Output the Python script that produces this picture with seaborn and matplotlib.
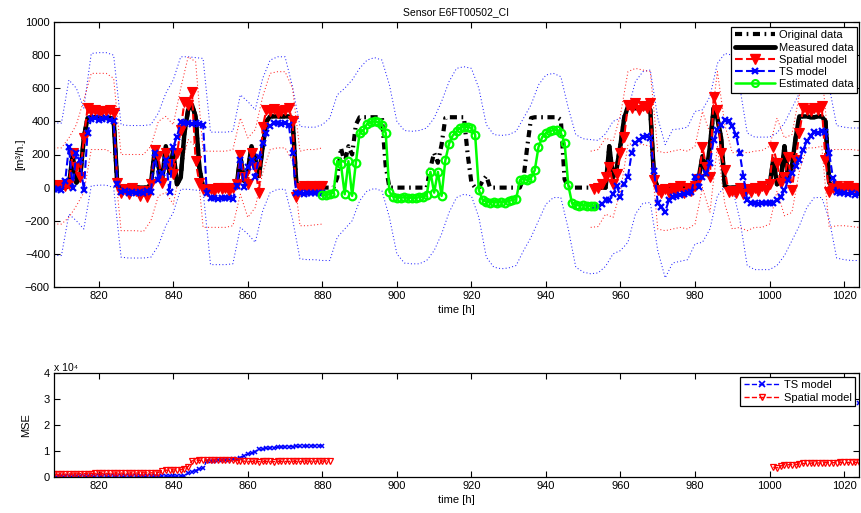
import numpy as np
import pandas as pd
import matplotlib
matplotlib.use('Agg')
import matplotlib.pyplot as plt
from matplotlib.lines import Line2D
import seaborn as sns

# ---------------- data ----------------
hours = list(range(808, 1025))
original_data = [
    0, 0, 0, 0, 10, 200, 30, 60, 300, 420,
    425, 425, 420, 420, 420, 420, 415, 10, 0, 0,
    0, 0, 0, 0, 0, 0, 20, 220, 130, 40,
    250, 90, 220, 20, 60, 330, 470, 500, 430, 120,
    0, 0, 0, 0, 0, 0, 0, 0, 0, 10,
    190, 40, 100, 250, 170, 70, 250, 400, 430, 430,
    430, 430, 430, 430, 420, 30, 0, 0, 0, 0,
    0, 0, 0, 0, 0, 0, 60, 240, 150, 250,
    200, 380, 425, 425, 425, 425, 425, 425, 420, 130,
    0, 0, 0, 0, 0, 0, 0, 0, 0, 0,
    0, 120, 210, 150, 260, 420, 425, 425, 425, 425,
    425, 200, 30, 0, 0, 40, 70, 0, 0, 0,
    0, 0, 0, 0, 0, 0, 60, 250, 420, 425,
    425, 425, 425, 425, 425, 425, 410, 50, 0, 0,
    0, 0, 0, 0, 0, 0, 0, 0, 0, 250,
    60, 120, 260, 420, 490, 480, 480, 480, 480, 480,
    470, 60, 0, 0, 0, 0, 0, 0, 0, 0,
    0, 0, 0, 60, 190, 80, 250, 480, 420, 300,
    10, 0, 0, 0, 0, 0, 0, 0, 0, 0,
    0, 0, 10, 170, 20, 40, 250, 60, 130, 300,
    430, 430, 430, 425, 425, 430, 430, 400, 30, 0,
    0, 0, 0, 0, 0, 0, 0]

# measured periods (the rest of the original series is missing)
meas_start1, meas_end1 = 808, 880
meas_start2, meas_end2 = 953, 1024

hours_seg1 = list(range(808, 881))
hours_seg2 = list(range(953, 1025))
hours_gap = list(range(880, 954))

spatial_seg1 = [
    10, 15, 10, 10, 20, 207, 126, 66, 300, 478,
    460, 470, 455, 465, 460, 470, 450, 30, -30, -10,
    -40, 0, -20, -50, -20, -55, 20, 227, 190, 30,
    207, 140, 80, 207, 350, 519, 500, 579, 160, 30,
    -10, -20, -10, -20, 0, -10, 0, -20, 0, 20,
    197, 66, 20, 207, 126, -35, 368, 470, 460, 475,
    450, 465, 470, 480, 400, -55, 0, 10, 0, 10,
    0, 10, 10]
spatial_seg2 = [
    -10, 0, 20, 66, 126,
    20, 80, 207, 308, 500, 480, 510, 470, 495, 480,
    510, 46, -15, -30, -10, -35, 0, -20, 10, -30,
    0, -20, 10, 50, 247, 126, 66, 549, 470, 207,
    106, -25, -20, -30, 0, -40, -10, -25, 0, -20,
    10, -15, 20, 247, 146, 26, 66, 187, -14, 167,
    328, 478, 470, 460, 480, 470, 490, 167, -25, 0,
    10, -10, 0, 10, -5, 0, -10]

ts_seg1 = [
    -10, -10, -15, 40, 247, 0, 207, 167, -15, 330,
    415, 418, 410, 415, 420, 410, 400, 20, -25, -20,
    -30, -25, -35, -25, -30, -20, -25, 207, 46, 86,
    167, -25, 247, 308, 398, 390, 388, 385, 390, 385,
    380, -35, -65, -60, -70, -65, -65, -60, -70, 10,
    167, 6, 126, 167, 66, 187, 267, 328, 370, 388,
    390, 385, 388, 380, 207, -35, -30, -40, -35, -35,
    -30, -35, -35]
ts_seg2 = [
    -115, -115, -100, -75, -75,
    -40, 10, -55, 20, 66, 207, 267, 290, 308, 310,
    300, 100, -90, -115, -145, -75, -55, -50, -45, -40,
    -35, -25, 66, 6, 66, 86, 147, 287, 350, 380,
    408, 400, 370, 320, 207, 66, -75, -95, -90, -100,
    -95, -95, -90, -95, -75, -55, -15, 46, 86, 130,
    167, 227, 280, 310, 338, 330, 340, 338, 207, 60,
    -25, -35, -30, -40, -35, -45, -40]

estimated_data = [
    -45, -45, -40, -30, 160, 140, -40, 160, -50, 150,
    330, 345, 385, 395, 400, 395, 380, 330, -25, -55,
    -60, -60, -58, -62, -60, -65, -55, -55, -45, 95,
    -30, 95, -50, 165, 265, 315, 340, 360, 368, 368,
    360, 320, -15, -75, -85, -90, -85, -90, -85, -90,
    -80, -75, -70, 45, 55, 45, 60, 105, 245, 305,
    330, 340, 348, 348, 330, 270, 15, -95, -105, -108,
    -105, -110, -110, -112]

# confidence bounds (every 2 h)
bound_hours = list(range(808, 1025, 2))
ts_upper = [
    390, 390, 650, 600, 480, 810, 815, 815, 800, 380,
    375, 375, 375, 380, 450, 570, 650, 790, 790, 785,
    780, 335, 335, 335, 340, 560, 520, 470, 660, 770,
    790, 790, 610, 370, 365, 365, 380, 420, 560, 600,
    650, 720, 770, 785, 770, 620, 400, 345, 340, 345,
    360, 420, 520, 640, 720, 730, 720, 600, 380, 320,
    315, 320, 340, 420, 500, 620, 680, 690, 670, 480,
    320, 295, 290, 285, 325, 400, 420, 470, 640, 700,
    710, 420, 260, 350, 355, 365, 460, 470, 550, 750,
    810, 800, 610, 330, 305, 305, 305, 330, 390, 480,
    570, 680, 740, 740, 610, 375, 365, 360, 360]
ts_lower = [
    -410, -410, -160, -200, -250, 10, 15, 15, 0, -420,
    -425, -425, -425, -420, -350, -230, -150, -10, -10, -15,
    -20, -465, -465, -465, -460, -240, -280, -330, -140, -30,
    -10, -10, -190, -430, -435, -435, -440, -440, -300, -250,
    -200, -80, -20, -5, -20, -180, -400, -455, -460, -460,
    -440, -380, -280, -150, -60, -40, -50, -180, -420, -480,
    -490, -485, -470, -380, -300, -200, -100, -60, -60, -250,
    -480, -510, -520, -515, -475, -400, -380, -330, -160, -95,
    -90, -380, -545, -455, -445, -435, -340, -330, -250, -50,
    10, 0, -190, -470, -495, -495, -495, -470, -410, -320,
    -230, -120, -60, -60, -190, -425, -435, -440, -440]

sp_bound_hours1 = list(range(808, 881, 2))
sp_bound_hours2 = list(range(952, 1025, 2))
sp_upper1 = [
    240, 240, 300, 380, 530, 690, 690, 690, 660, 200,
    200, 200, 200, 250, 400, 430, 380, 600, 790, 760,
    220, 220, 220, 220, 230, 420, 300, 350, 550, 690,
    700, 700, 600, 220, 230, 230, 240]
sp_lower1 = [
    -220, -220, -180, -110, -30, 230, 230, 230, 200, -260,
    -260, -260, -265, -200, -50, -30, -100, 120, 290, 250,
    -240, -240, -240, -240, -230, -40, -180, -120, 90, 230,
    240, 240, 160, -230, -230, -225, -220]
sp_upper2 = [
    220, 230, 300, 280, 440, 700, 720, 710, 700, 220,
    210, 220, 230, 220, 250, 460, 330, 700, 380, 210,
    220, 210, 220, 225, 250, 420, 300, 320, 560, 700,
    700, 700, 230, 230, 230, 230, 225]
sp_lower2 = [
    -240, -235, -160, -180, -20, 260, 270, 260, 250, -250,
    -260, -250, -240, -250, -220, 0, -150, 250, -100, -250,
    -240, -260, -240, -240, -220, -20, -170, -150, 100, 240,
    240, 250, -240, -230, -230, -235, -240]

# MSE (x 10^4)
mse_ts_hours1 = list(range(808, 881))
mse_ts_1 = [
    0.02, 0.02, 0.02, 0.02, 0.02, 0.02, 0.02, 0.02, 0.02, 0.02,
    0.02, 0.02, 0.02, 0.02, 0.02, 0.02, 0.02, 0.02, 0.02, 0.02,
    0.02, 0.02, 0.02, 0.02, 0.02, 0.03, 0.03, 0.03, 0.03, 0.03,
    0.03, 0.03, 0.03, 0.03, 0.03, 0.03,
    0.15, 0.2, 0.25, 0.3, 0.35, 0.6,
    0.62, 0.63, 0.64, 0.65, 0.66, 0.67, 0.68, 0.7, 0.75, 0.82,
    0.88, 0.92, 0.98, 1.06, 1.08, 1.1, 1.12, 1.13, 1.14, 1.15,
    1.16, 1.17, 1.17, 1.18, 1.18, 1.19, 1.19, 1.2, 1.2, 1.21, 1.21]
mse_ts_hours2 = [1024]
mse_ts_2 = [2.86]
mse_sp_hours1 = list(range(808, 883))
mse_sp_1 = [
    0.10, 0.10, 0.11, 0.11, 0.12, 0.12, 0.12, 0.13, 0.13, 0.13,
    0.13, 0.14, 0.14, 0.14, 0.14, 0.14, 0.15, 0.15, 0.15, 0.15,
    0.15, 0.15, 0.15, 0.16, 0.16, 0.16, 0.16, 0.16, 0.17, 0.25,
    0.26, 0.27, 0.27, 0.28, 0.28, 0.30, 0.40, 0.62, 0.63, 0.64,
    0.65, 0.65, 0.66, 0.66, 0.66, 0.65, 0.65, 0.64, 0.64, 0.63,
    0.62, 0.61, 0.60, 0.60, 0.60, 0.59, 0.60, 0.60, 0.60, 0.59,
    0.60, 0.60, 0.60, 0.60, 0.61, 0.60, 0.60, 0.61, 0.61, 0.61,
    0.61, 0.61, 0.61, 0.62, 0.62]
mse_sp_hours2 = list(range(1001, 1025))
mse_sp_2 = [
    0.38, 0.35, 0.42, 0.48, 0.47, 0.48, 0.47, 0.50, 0.52, 0.53,
    0.53, 0.54, 0.54, 0.54, 0.55, 0.55, 0.55, 0.55, 0.56, 0.56,
    0.56, 0.56, 0.56, 0.56]

x_ticks = [820, 840, 860, 880, 900, 920, 940, 960, 980, 1000, 1020]
y_ticks_top = [-600, -400, -200, 0, 200, 400, 600, 800, 1000]
y_ticks_bottom = [0, 1, 2, 3, 4]

# ---------------- style ----------------
sns.set_theme(style='white')
plt.rcParams['font.family'] = ['Liberation Sans', 'DejaVu Sans']
plt.rcParams['axes.edgecolor'] = 'black'
plt.rcParams['axes.linewidth'] = 0.9
plt.rcParams['xtick.color'] = 'black'
plt.rcParams['ytick.color'] = 'black'
plt.rcParams['text.color'] = 'black'
plt.rcParams['axes.labelcolor'] = 'black'

BLUE = (0, 0, 1)
RED = (1, 0, 0)
GREEN = (0, 1, 0)
DASHDOT = (0, (1.7, 1.1, 0.4, 1.1))

W, H = 862, 513
fig = plt.figure(figsize=(W / 100, H / 100), dpi=100)
ax1 = fig.add_axes([54 / W, 1 - 287 / H, (859 - 54) / W, (287 - 22) / H])
ax2 = fig.add_axes([54 / W, 1 - 477 / H, (859 - 54) / W, (477 - 373) / H])


def draw(ax, x, y, **kw):
    df = pd.DataFrame({'x': np.asarray(x, float), 'y': np.asarray(y, float)})
    sns.lineplot(data=df, x='x', y='y', ax=ax, estimator=None, sort=False, **kw)


hours_arr = np.array(hours)
orig_arr = np.array(original_data, float)
m1 = (hours_arr >= meas_start1) & (hours_arr <= meas_end1)
m2 = (hours_arr >= meas_start2) & (hours_arr <= meas_end2)

# bounds
dot = (0, (1, 2.2))
draw(ax1, bound_hours, ts_upper, color=BLUE, lw=0.75, linestyle=dot, alpha=0.85)
draw(ax1, bound_hours, ts_lower, color=BLUE, lw=0.75, linestyle=dot, alpha=0.85)
for bh, bu, bl in [(sp_bound_hours1, sp_upper1, sp_lower1),
                   (sp_bound_hours2, sp_upper2, sp_lower2)]:
    draw(ax1, bh, bu, color=RED, lw=0.75, linestyle=dot, alpha=0.85)
    draw(ax1, bh, bl, color=RED, lw=0.75, linestyle=dot, alpha=0.85)

# original and measured data
draw(ax1, hours, original_data, color='black', lw=3, linestyle=DASHDOT)
draw(ax1, hours_arr[m1], orig_arr[m1], color='black', lw=3.2, linestyle='-')
draw(ax1, hours_arr[m2], orig_arr[m2], color='black', lw=3.2, linestyle='-')

# models
for hs, vals in [(hours_seg1, spatial_seg1), (hours_seg2, spatial_seg2)]:
    draw(ax1, hs, vals, color=RED, lw=1.5, linestyle='--', marker='v',
         markersize=6.5, mfc=RED, mec=RED, mew=0.8)
for hs, vals in [(hours_seg1, ts_seg1), (hours_seg2, ts_seg2)]:
    draw(ax1, hs, vals, color=BLUE, lw=1.5, linestyle='--', marker='x',
         markersize=4.5, mfc=BLUE, mec=BLUE, mew=1.6)
draw(ax1, hours_gap, estimated_data, color=GREEN, lw=1.8, linestyle='-',
     marker='o', markersize=5.5, mfc='none', mec=GREEN, mew=1.6)

ax1.set_xlim(808, 1024)
ax1.set_ylim(-600, 1000)
ax1.set_xticks(x_ticks)
ax1.set_yticks(y_ticks_top)
ax1.set_xlabel('time [h]', fontsize=8, labelpad=3)
ax1.set_ylabel('[m³/h.]', fontsize=8, labelpad=0)
ax1.set_title('Sensor E6FT00502_CI', fontsize=7.5, pad=5)

h1 = [Line2D([], [], color='black', lw=3, linestyle=DASHDOT),
      Line2D([], [], color='black', lw=3.5),
      Line2D([], [], color=RED, lw=1.5, linestyle='--', marker='v', ms=7,
             mfc=RED, mec=RED),
      Line2D([], [], color=BLUE, lw=1.5, linestyle='--', marker='x', ms=4.5,
             mec=BLUE, mew=1.6),
      Line2D([], [], color=GREEN, lw=1.8, marker='o', ms=5, mfc='none',
             mec=GREEN, mew=1.5)]
l1 = ['Original data', 'Measured data', 'Spatial model', 'TS model',
      'Estimated data']
leg1 = ax1.legend(h1, l1, loc='upper right', bbox_to_anchor=(1 - 2 / 805, 1 - 5 / 265),
                  borderaxespad=0, fontsize=8, handlelength=3.6,
                  handletextpad=0.4, labelspacing=0.2, borderpad=0.3,
                  fancybox=False, framealpha=1, edgecolor='black')
leg1.get_frame().set_linewidth(0.9)

# MSE panel
draw(ax2, mse_ts_hours1, mse_ts_1, color=BLUE, lw=1.0, linestyle='--', marker='x',
     markersize=3.5, mec=BLUE, mew=1.1)
draw(ax2, mse_ts_hours2, mse_ts_2, color=BLUE, lw=1.0, linestyle='--', marker='x',
     markersize=3.5, mec=BLUE, mew=1.1)
for hs, vals in [(mse_sp_hours1, mse_sp_1), (mse_sp_hours2, mse_sp_2)]:
    draw(ax2, hs, vals, color=RED, lw=1.0, linestyle='--', marker='v',
         markersize=5, mfc='none', mec=RED, mew=0.9)

ax2.set_xlim(808, 1024)
ax2.set_ylim(0, 4)
ax2.set_xticks(x_ticks)
ax2.set_yticks(y_ticks_bottom)
ax2.set_xlabel('time [h]', fontsize=8, labelpad=3)
ax2.set_ylabel('MSE', fontsize=8, labelpad=9)
ax2.text(0.0, 1.0, 'x 10⁴', transform=ax2.transAxes, fontsize=7.5,
         ha='left', va='bottom')

h2 = [Line2D([], [], color=BLUE, lw=1.0, linestyle='--', marker='x', ms=4,
             mec=BLUE, mew=1.2),
      Line2D([], [], color=RED, lw=1.0, linestyle='--', marker='v', ms=5,
             mfc='none', mec=RED, mew=1.0)]
leg2 = ax2.legend(h2, ['TS model', 'Spatial model'], loc='upper right',
                  bbox_to_anchor=(1 - 4 / 805, 1 - 4 / 104), borderaxespad=0,
                  fontsize=8, handlelength=3.2, handletextpad=0.4,
                  labelspacing=0.2, borderpad=0.3, fancybox=False,
                  framealpha=1, edgecolor='black')
leg2.get_frame().set_linewidth(0.9)

for ax in (ax1, ax2):
    ax.tick_params(direction='in', length=4, width=0.8, top=True, right=True,
                   bottom=True, left=True, labelsize=8, pad=3)
    ax.grid(False)
    for s in ax.spines.values():
        s.set_color('black')
        s.set_linewidth(0.9)

fig.savefig('out.png', dpi=100)
